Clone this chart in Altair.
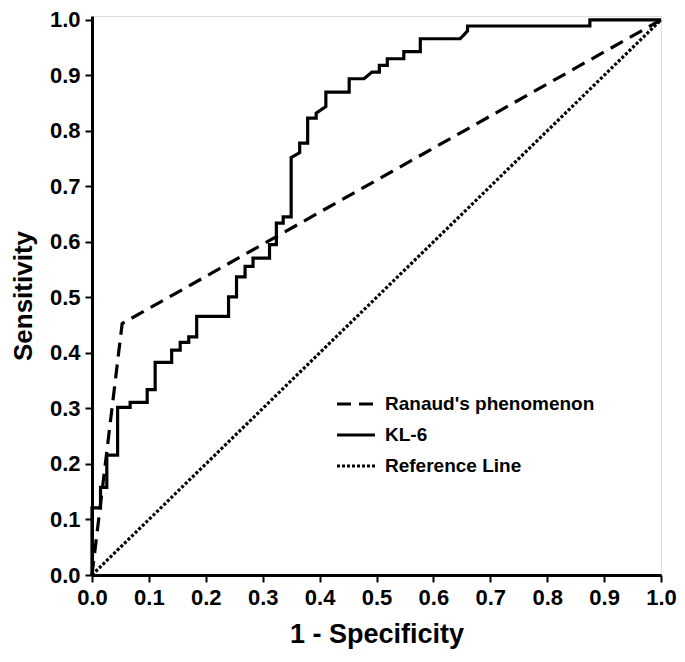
import altair as alt
import pandas as pd

# KL-6 ROC curve vertices (1 - specificity, sensitivity)
kl6_fpr = [0.0, 0.0, 0.015, 0.015, 0.026, 0.026, 0.045, 0.045, 0.067, 0.067,
           0.097, 0.097, 0.111, 0.111, 0.140, 0.140, 0.155, 0.155, 0.170, 0.170,
           0.184, 0.184, 0.240, 0.240, 0.254, 0.254, 0.269, 0.269, 0.283, 0.283,
           0.312, 0.312, 0.324, 0.324, 0.336, 0.336, 0.350, 0.350, 0.365, 0.365,
           0.379, 0.379, 0.394, 0.394, 0.411, 0.411, 0.452, 0.452, 0.478, 0.492,
           0.505, 0.505, 0.519, 0.519, 0.548, 0.548, 0.577, 0.577, 0.647, 0.660,
           0.660, 0.875, 0.875, 1.0]
kl6_tpr = [0.0, 0.121, 0.121, 0.158, 0.158, 0.216, 0.216, 0.302, 0.302, 0.311,
           0.311, 0.334, 0.334, 0.383, 0.383, 0.405, 0.405, 0.419, 0.419, 0.429,
           0.429, 0.466, 0.466, 0.501, 0.501, 0.537, 0.537, 0.556, 0.556, 0.571,
           0.571, 0.595, 0.595, 0.634, 0.634, 0.645, 0.645, 0.752, 0.761, 0.778,
           0.778, 0.823, 0.823, 0.832, 0.844, 0.870, 0.870, 0.894, 0.894, 0.906,
           0.906, 0.918, 0.918, 0.930, 0.930, 0.943, 0.943, 0.966, 0.966, 0.980,
           0.989, 0.989, 1.0, 1.0]

ray_fpr = [0.0, 0.053, 1.0]
ray_tpr = [0.0, 0.453, 1.0]

ref_fpr = [0.0, 1.0]
ref_tpr = [0.0, 1.0]

series_names = ["Ranaud's phenomenon", "KL-6", "Reference Line"]
tick_values = [0.0, 0.1, 0.2, 0.3, 0.4, 0.5, 0.6, 0.7, 0.8, 0.9, 1.0]

rows = []
for name, xs, ys in [(series_names[0], ray_fpr, ray_tpr),
                     (series_names[1], kl6_fpr, kl6_tpr),
                     (series_names[2], ref_fpr, ref_tpr)]:
    for i, (a, b) in enumerate(zip(xs, ys)):
        rows.append({"fpr": a, "tpr": b, "series": name, "order": i})
df = pd.DataFrame(rows)

FONT = "Liberation Sans"

legend = alt.Legend(
    title=None,
    orient="none",
    legendX=243,
    legendY=367,
    symbolType="stroke",
    symbolSize=1444,
    symbolStrokeColor="black",
    labelFont=FONT,
    labelFontSize=19,
    labelFontWeight="bold",
    labelColor="black",
    labelOffset=8,
    labelLimit=0,
    rowPadding=-1,
)

chart = alt.Chart(df).mark_line(color="black", strokeCap="butt").encode(
    x=alt.X("fpr:Q",
            scale=alt.Scale(domain=[0, 1], nice=False, zero=False),
            axis=alt.Axis(values=tick_values, format=".1f", title="1 - Specificity",
                          titleFontSize=27, titleFont=FONT, titleFontWeight="bold",
                          titleColor="black", titleBaseline="alphabetic", titleY=67,
                          labelFont=FONT, labelFontSize=22, labelFontWeight="bold",
                          labelColor="black", labelPadding=5, labelFlush=False,
                          domainColor="black", domainWidth=3, tickColor="black",
                          tickWidth=2, tickSize=7, grid=False)),
    y=alt.Y("tpr:Q",
            scale=alt.Scale(domain=[0, 1.007], nice=False, zero=False),
            axis=alt.Axis(values=tick_values, format=".1f", title="Sensitivity",
                          titleFontSize=26, titleFont=FONT, titleFontWeight="bold",
                          titleColor="black", titleBaseline="alphabetic", titleX=-61,
                          labelFont=FONT, labelFontSize=22, labelFontWeight="bold",
                          labelColor="black", labelPadding=5, labelFlush=False,
                          domainColor="black", domainWidth=3, tickColor="black",
                          tickWidth=2, tickSize=7, grid=False)),
    strokeDash=alt.StrokeDash("series:N",
                              scale=alt.Scale(domain=series_names,
                                              range=[[14, 8], [1, 0], [3, 2]]),
                              legend=legend),
    strokeWidth=alt.StrokeWidth("series:N",
                                scale=alt.Scale(domain=series_names, range=[3.2, 3.2, 0.8]),
                                legend=legend),
    order="order:Q",
).properties(
    width=569,
    height=559,
    autosize=alt.AutoSizeParams(type="none"),
    padding={"left": 84, "top": 8, "right": 16, "bottom": 79},
).configure_view(
    stroke="#808080",
    strokeWidth=2,
).configure(background="white")

chart.save("out.html", embed_options={"renderer": "svg", "actions": False})
